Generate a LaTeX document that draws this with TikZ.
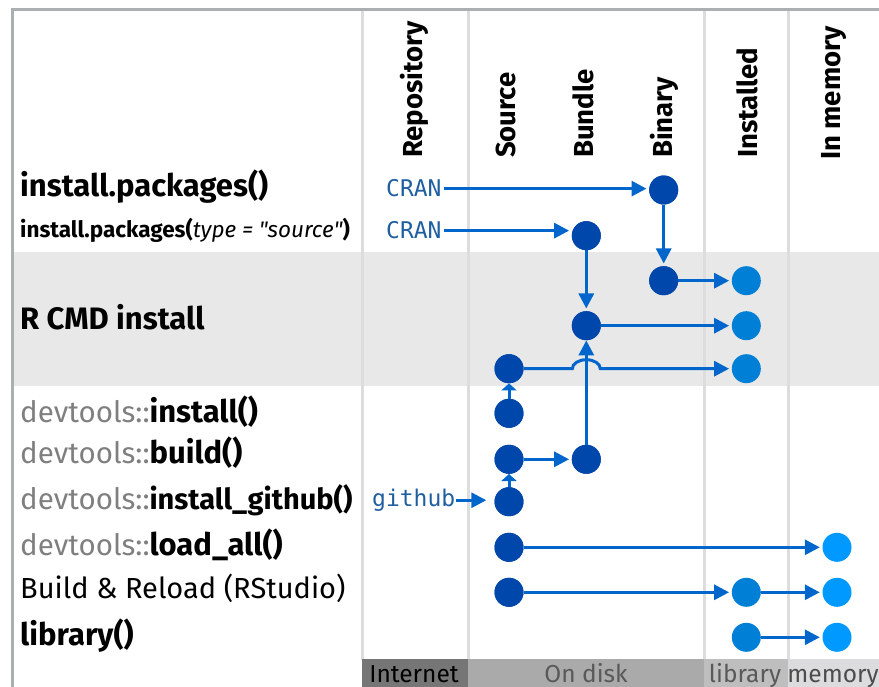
\documentclass[tikz,border=0pt]{standalone}
\usepackage{fontspec}
\setmainfont{Fira Sans}
\newfontfamily\plainfs{Fira Sans}
\newfontfamily\codefont{DejaVu Sans Mono}
\usetikzlibrary{arrows.meta}
\definecolor{dkblue}{HTML}{0047AB}
\definecolor{midblue}{HTML}{007FD6}
\definecolor{ltblue}{HTML}{0099FF}
\definecolor{arrowblue}{HTML}{0066CC}
\definecolor{monoblue}{HTML}{1F5FA0}
\definecolor{bordergray}{HTML}{ABAFAF}
\definecolor{sepgray}{HTML}{DDDDDD}
\definecolor{bandgray}{HTML}{E8E8E8}
\definecolor{labgray}{HTML}{7F7F7F}
\definecolor{internetbar}{HTML}{767676}
\definecolor{diskbar}{HTML}{AAAAAA}
\definecolor{libbar}{HTML}{BEBEBE}
\definecolor{membar}{HTML}{DCDCDE}
\newcommand{\regfs}{\fontsize{29.5}{29.5}\selectfont}
\newcommand{\boldfs}{\fontsize{31}{31}\selectfont}
\begin{document}
\begin{tikzpicture}[x=1pt,y=-1pt,
  pkgdot/.style={circle,fill=#1,minimum size=29pt,inner sep=0pt},
  lab/.style={anchor=base west,inner sep=0pt,font=\regfs},
  smalllab/.style={anchor=base west,inner sep=0pt,font=\fontsize{22.5}{22.5}\selectfont},
  hdr/.style={rotate=90,anchor=base west,inner sep=0pt,font=\bfseries\fontsize{27.5}{27.5}\selectfont},
  repo/.style={anchor=base west,inner sep=0pt,text=monoblue,font=\codefont\fontsize{23}{23}\selectfont},
  bot/.style={anchor=base,inner sep=0pt,font=\fontsize{24.5}{24.5}\selectfont},
  arr/.style={draw=arrowblue,line width=3pt,-{Triangle[length=15pt,width=15pt]},shorten >=2.5pt},
  shortarr/.style={draw=arrowblue,line width=3pt,-{Triangle[length=7pt,width=15pt]}},
]
\useasboundingbox (0,0) rectangle (879,687);
\clip (0,0) rectangle (879,687);
% band
\fill[bandgray] (13.5,252) rectangle (879,386);
% separators
\foreach \sx in {362,468,704,788}{\draw[sepgray,line width=3pt] (\sx,10) -- (\sx,660);}
% border
\draw[bordergray,line width=3pt] (879,10) -- (12,10) -- (12,690);
% bottom bar
\fill[internetbar] (362,659) rectangle (468,690);
\fill[diskbar] (468,659) rectangle (704,690);
\fill[libbar] (704,659) rectangle (788,690);
\fill[membar] (788,659) rectangle (879,690);
\node[bot,text=black] (binet) at (414,682) {Internet};
\node[bot,text=black!65] (bdisk) at (586,682) {On disk};
\node[bot,text=black!65] (blib) at (745,682) {library};
\node[bot,text=black!70] (bmem) at (833,682) {memory};
% headers
\node[hdr] (hrepo) at (422,158) {Repository};
\node[hdr] (hsrc) at (515,158) {Source};
\node[hdr] (hbun) at (593,158) {Bundle};
\node[hdr] (hbin) at (672,158) {Binary};
\node[hdr] (hinst) at (757,158) {Installed};
\node[hdr] (hmem) at (840,160) {In memory};
% row labels
\node[lab] (l1) at (20,197) {\boldfs\bfseries install.packages()};
\node[smalllab] (l2) at (20,238) {\bfseries install.packages({\plainfs\mdseries\itshape type = "source"\/})};
\node[lab] (l3) at (20,330) {\boldfs\bfseries R CMD install};
\node[lab] (l4) at (20,422) {\textcolor{labgray}{devtools::}{\boldfs\bfseries install()}};
\node[lab] (l5) at (20,463) {\textcolor{labgray}{devtools::}{\boldfs\bfseries build()}};
\node[lab] (l6) at (20,509) {\textcolor{labgray}{devtools::}{\fontsize{29}{29}\selectfont\bfseries install\_github()}};
\node[lab] (l7) at (20,555) {\textcolor{labgray}{devtools::}{\boldfs\bfseries load\_all()}};
\node[lab] (l8) at (20,598) {\fontsize{29}{29}\selectfont Build \& Reload (RStudio)};
\node[lab] (l9) at (20,645) {\boldfs\bfseries library()};
% repositories
\node[repo] (cran1) at (386,197) {CRAN};
\node[repo] (cran2) at (386,239) {CRAN};
\node[repo] (gh) at (372,506.5) {github};
% circles
\node[pkgdot=dkblue] (b1) at (663.7,190) {};
\node[pkgdot=dkblue] (u2) at (586.3,235.7) {};
\node[pkgdot=dkblue] (b3) at (663.7,280.7) {};
\node[pkgdot=midblue] (i3) at (746.3,280.7) {};
\node[pkgdot=dkblue] (u4) at (586.3,325.7) {};
\node[pkgdot=midblue] (i4) at (746.3,325.7) {};
\node[pkgdot=dkblue] (s5) at (509,368.7) {};
\node[pkgdot=midblue] (i5) at (746.3,368.7) {};
\node[pkgdot=dkblue] (s6) at (509,413.3) {};
\node[pkgdot=dkblue] (s7) at (509,459.3) {};
\node[pkgdot=dkblue] (u7) at (586.3,459.3) {};
\node[pkgdot=dkblue] (s8) at (509,501.7) {};
\node[pkgdot=dkblue] (s9) at (509,547.3) {};
\node[pkgdot=ltblue] (m9) at (837,547.3) {};
\node[pkgdot=dkblue] (s10) at (509,592.3) {};
\node[pkgdot=midblue] (i10) at (746.3,592.3) {};
\node[pkgdot=ltblue] (m10) at (837,592.3) {};
\node[pkgdot=midblue] (i11) at (746.3,637.3) {};
\node[pkgdot=ltblue] (m11) at (837,637.3) {};
% connectors
\draw[arr] ([xshift=2pt]cran1.east) -- (cran1.east -| b1.west);
\draw[arr] ([xshift=2pt]cran2.east) -- (cran2.east -| u2.west);
\draw[arr] (b1.south) -- (b3.north);
\draw[arr] (b3.east) -- (i3.west);
\draw[arr] (u2.south) -- (u4.north);
\draw[arr] (u4.east) -- (i4.west);
\draw[arr,shorten >=0pt] (u7.north) -- (u4.south);
\draw[arr] (s5.east) -- ([xshift=-14pt]s5.center -| u4.center)
   arc[start angle=180,end angle=0,x radius=14pt,y radius=9pt] -- (i5.west);
\draw[shortarr] (s6.north) -- (s5.south);
\draw[arr] (s7.east) -- (u7.west);
\draw[shortarr] (s8.north) -- (s7.south);
\draw[arr,shorten >=8pt] ([xshift=1pt]gh.east) -- (gh.east -| s8.west);
\draw[arr] (s9.east) -- (m9.west);
\draw[arr] (s10.east) -- (i10.west);
\draw[arr] (i10.east) -- (m10.west);
\draw[arr] (i11.east) -- (m11.west);
% redraw dots over line starts
\foreach \n/\c in {b1/dkblue,u2/dkblue,b3/dkblue,u4/dkblue,s5/dkblue,s6/dkblue,s7/dkblue,u7/dkblue,s8/dkblue,s9/dkblue,s10/dkblue}{
  \fill[\c] (\n.center) circle (14.5pt);}
\end{tikzpicture}
\end{document}
